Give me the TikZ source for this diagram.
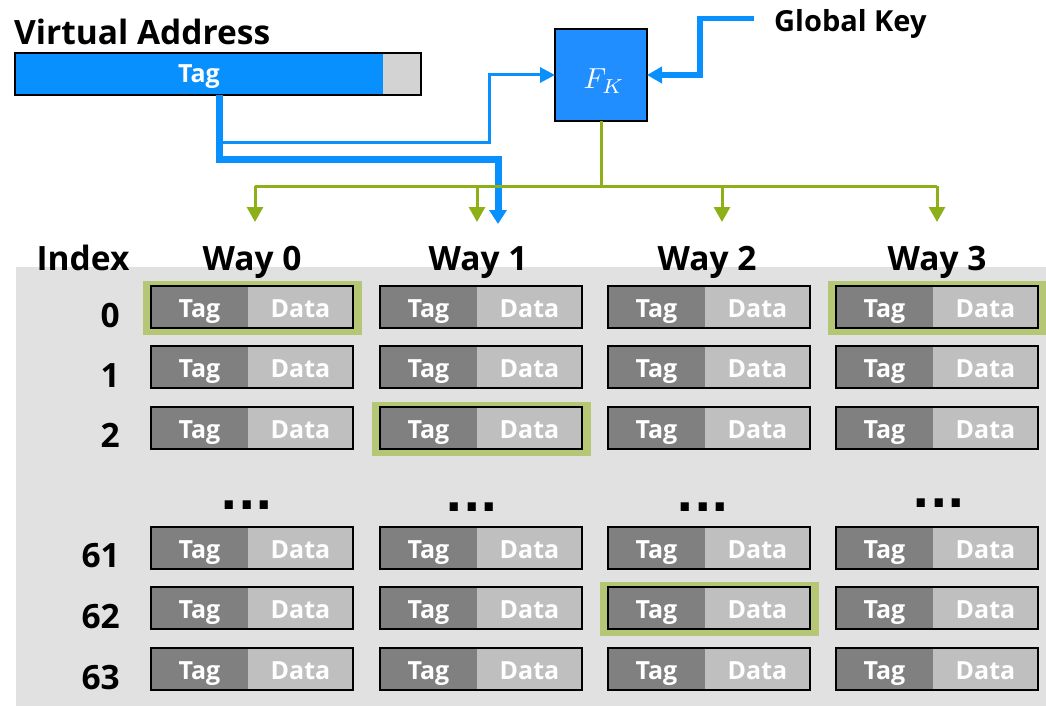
\documentclass[tikz,border=0pt]{standalone}
\usepackage{fontspec}
\setmainfont{Open Sans}
\newfontfamily\dotsfont{DejaVu Sans}
\usetikzlibrary{arrows.meta,calc}
\definecolor{blueline}{RGB}{8,144,255}
\definecolor{fkblue}{RGB}{32,142,255}
\definecolor{greenline}{RGB}{141,176,24}
\definecolor{hlgreen}{RGB}{181,199,116}
\definecolor{bggray}{RGB}{225,225,225}
\definecolor{darkcell}{RGB}{128,128,128}
\definecolor{lightcell}{RGB}{191,191,191}
\definecolor{vagray}{RGB}{211,211,211}
\tikzset{
  header/.style={font=\fontsize{33.5}{36}\selectfont\bfseries, inner sep=0pt, anchor=base},
  idx/.style={font=\fontsize{33.5}{36}\selectfont\bfseries, inner sep=0pt, anchor=base east},
  cellpart/.style={inner sep=0pt, outer sep=0pt, minimum height=42pt, text height=20pt, text depth=0pt,
    font=\fontsize{25}{28}\selectfont\bfseries, text=white, anchor=north west},
  tagpart/.style={cellpart, fill=darkcell, minimum width=97pt},
  datapart/.style={cellpart, fill=lightcell, minimum width=105pt},
  cellborder/.style={draw=black, line width=2.5pt},
  hl/.style={fill=hlgreen},
  dotrow/.style={font=\dotsfont\fontsize{46}{48}\selectfont\bfseries, inner sep=0pt, anchor=base},
  thinblue/.style={draw=blueline, line width=3pt, -{Triangle[length=15pt,width=15pt]}},
  thickblue/.style={draw=blueline, line width=7pt, -{Triangle[length=14pt,width=17pt]}},
  keyblue/.style={draw=blueline, line width=5.5pt, -{Triangle[length=15pt,width=16pt]}},
  greenarrow/.style={draw=greenline, line width=3pt, -{Triangle[length=15pt,width=16pt]}},
  greenline/.style={draw=greenline, line width=3pt},
}
\begin{document}
\begin{tikzpicture}[x=1pt,y=-1pt]
\useasboundingbox (0,0) rectangle (1046,706);
% background of the cache
\fill[bggray] (16,267) rectangle (1046,706);

% virtual address
\node[header, anchor=base west] (vatitle) at (14,45) {Virtual Address};
\node[draw=black, line width=2.5pt, fill=vagray, minimum width=406pt, minimum height=42pt,
      inner sep=0pt, outer sep=0pt, anchor=north west] (va) at (15,53) {};
\fill[blueline] ($(va.north west)+(1.25,1.25)$) rectangle ($(va.south west)+(368,-1.25)$);
\draw[line width=2.5pt] (va.north west) rectangle (va.south east);
\node[font=\fontsize{25}{28}\selectfont\bfseries, text=white, inner sep=0pt, anchor=base] (vatag) at (199,83) {Tag};

% F_K box
\node[draw=black, line width=2.5pt, fill=fkblue, minimum width=92pt, minimum height=92pt,
      inner sep=0pt, outer sep=0pt] (fk) at (601,75) {};
\node[text=white, inner sep=0pt] (fklabel) at ($(fk.center)+(3,6)$) {\scalebox{2.9}{$F_K$}};

% global key
\node[font=\fontsize{29}{32}\selectfont\bfseries, inner sep=0pt, anchor=base west] (gk) at (774,32) {Global Key};

% headers
\node[header] (index) at (83,270) {Index};
\foreach \c/\x in {0/252,1/478,2/707,3/937}{
  \node[header] (way\c) at (\x,270) {Way \c};
}

% highlights
\foreach \x/\y in {151/286,380/407,608/587,836/286}{
  \fill[hl] (\x-8.5,\y-5) rectangle (\x+210.5,\y+49);
}

% cells
\foreach \c/\x in {0/151,1/380,2/608,3/836}{
  \foreach \r/\y in {0/286,1/346,2/407,61/527,62/587,63/648}{
    \node[tagpart] (t\c-\r) at (\x,\y) {Tag};
    \node[datapart] (d\c-\r) at (t\c-\r.north east) {Data};
    \draw[cellborder] (t\c-\r.north west) rectangle (d\c-\r.south east);
  }
}

% index labels
\foreach \r/\y in {0/327,1/387,2/447,61/567,62/628,63/689}{
  \node[idx] (i\r) at (120,\y) {\r};
}

% ellipses
\foreach \c/\x/\y in {0/247/509,1/472/511,2/703/511,3/939/507}{
  \node[dotrow] (dots\c) at (\x,\y) {...};
}

% connectors
\coordinate (vaout) at ($(va.south west)+(204,0)$);
\coordinate (w0in) at (255,222);
\coordinate (w1in) at (477,222);
\coordinate (w1tag) at (498,224);
\coordinate (w2in) at (722,222);
\coordinate (w3in) at (937,222);

\draw[thickblue] (vaout) -- (vaout |- 0,159) -- (498,159) -- (w1tag);
\draw[thinblue] (219,142) -- (489,142) |- (fk.west);
\draw[keyblue] ($(gk.west)+(-20,-6)$) -| (700,75) -- (fk.east);

\draw[greenline] (fk.south) -- ($(fk.south)+(0,65)$) coordinate (gj);
\draw[greenline] (w0in |- gj) -- (w3in |- gj);
\foreach \p in {w0in,w1in,w2in,w3in}{
  \draw[greenarrow] (\p |- gj) -- (\p);
}
\end{tikzpicture}
\end{document}
